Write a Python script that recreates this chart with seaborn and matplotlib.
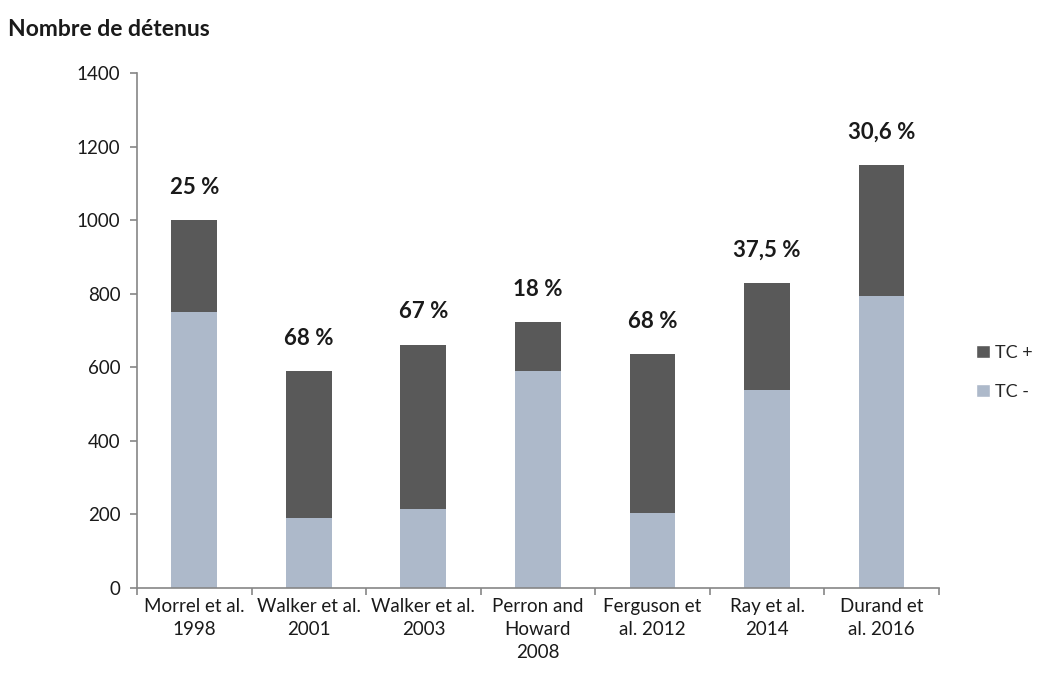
import matplotlib
matplotlib.use('Agg')
import matplotlib.pyplot as plt
from matplotlib.patches import Patch
import seaborn as sns
import pandas as pd

### data
etudes = ['Morrel et al.\n1998', 'Walker et al.\n2001', 'Walker et al.\n2003',
          'Perron and\nHoward\n2008', 'Ferguson et\nal. 2012', 'Ray et al.\n2014',
          'Durand et\nal. 2016']
tc_moins = [750, 190, 215, 590, 204, 537, 794]
tc_plus = [250, 400, 447, 132, 432, 293, 356]
pourcent = ['25 %', '68 %', '67 %', '18 %', '68 %', '37,5 %', '30,6 %']

df = pd.DataFrame({'etude': etudes, 'tc_moins': tc_moins, 'tc_plus': tc_plus})
df['total'] = df['tc_moins'] + df['tc_plus']

sns.set_style('white')
plt.rcParams['font.family'] = ['Lato', 'DejaVu Sans']

col_plus = '#595959'
col_moins = '#ADB9CA'
col_axe = '#868686'
col_txt = '#1a1a1a'

fig = plt.figure(figsize=(10.42, 6.77), dpi=100)
ax = fig.add_axes([0.1315, 0.1315, 0.901 - 0.1315, 0.892 - 0.1315])

### stacked bars: total in dark, TC- drawn over it in light
sns.barplot(data=df, x='etude', y='total', color=col_plus, width=0.4,
            saturation=1, linewidth=0, ax=ax)
sns.barplot(data=df, x='etude', y='tc_moins', color=col_moins, width=0.4,
            saturation=1, linewidth=0, ax=ax)

### percentage labels above the bars
for i, (tot, p) in enumerate(zip(df['total'], pourcent)):
    ax.annotate(p, (i, tot), xytext=(0, 16), textcoords='offset points',
                ha='center', va='bottom', fontsize=16, fontweight='bold',
                color=col_txt)

ax.set_ylim(0, 1400)
ax.set_yticks(range(0, 1401, 200))
ax.set_xlim(-0.5, len(etudes) - 0.5)
ax.set_xlabel('')
ax.set_ylabel('')

for s in ['top', 'right']:
    ax.spines[s].set_visible(False)
for s in ['left', 'bottom']:
    ax.spines[s].set_color(col_axe)
    ax.spines[s].set_linewidth(1.2)

ax.tick_params(axis='y', which='major', direction='out', length=5, width=1.2,
               color=col_axe, left=True, labelsize=13.5, labelcolor=col_txt, pad=7)
ax.tick_params(axis='x', which='major', length=0, labelsize=13.5,
               labelcolor=col_txt, pad=7)
for lab in ax.get_xticklabels():
    lab.set_linespacing(1.45)
ax.set_xticks([i - 0.5 for i in range(len(etudes) + 1)], minor=True)
ax.tick_params(axis='x', which='minor', direction='out', length=5, width=1.2,
               color=col_axe, bottom=True)

fig.text(0.008, 0.957, 'Nombre de détenus', fontsize=16.5, fontweight='bold',
         color=col_txt, ha='left', va='center')

handles = [Patch(facecolor=col_plus), Patch(facecolor=col_moins)]
fig.legend(handles, ['TC +', 'TC -'], loc='center left',
           bbox_to_anchor=(0.937, 0.45), frameon=False, handlelength=0.75,
           handleheight=0.75, handletextpad=0.3, labelspacing=1.3, fontsize=13,
           borderpad=0, borderaxespad=0)

plt.savefig('out.png', dpi=100)
